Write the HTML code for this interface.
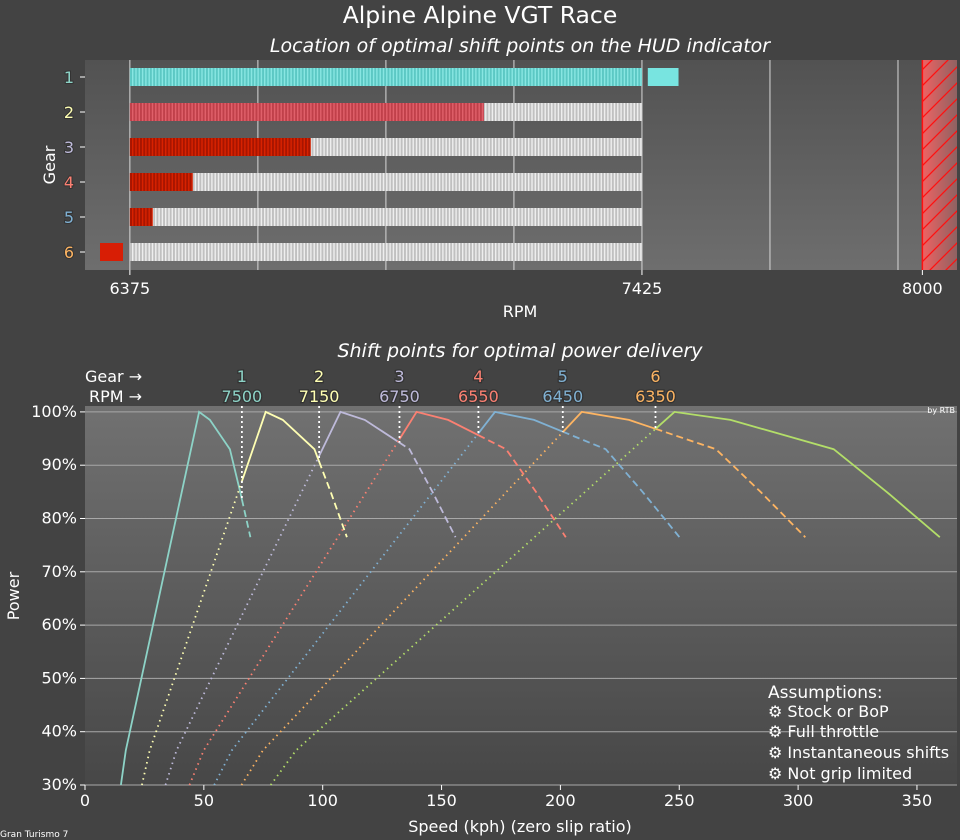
<!DOCTYPE html>
<html><head><meta charset="utf-8"><style>
html,body{margin:0;padding:0;background:#434343;}
svg{display:block;font-family:"DejaVu Sans","Liberation Sans",sans-serif;}
</style></head><body>
<svg id="chart" width="960" height="840" viewBox="0 0 960 840" xmlns="http://www.w3.org/2000/svg">
<defs>
<linearGradient id="bgTop" x1="0" y1="0" x2="0" y2="1"><stop offset="0" stop-color="#525252"/><stop offset="1" stop-color="#6e6e6e"/></linearGradient>
<linearGradient id="bgBot" x1="0" y1="0" x2="0" y2="1"><stop offset="0" stop-color="#717171"/><stop offset="1" stop-color="#474747"/></linearGradient>
<linearGradient id="redz" x1="0" y1="0" x2="1" y2="0"><stop offset="0" stop-color="#f06262"/><stop offset="1" stop-color="#8e6262"/></linearGradient>
<pattern id="hatch" width="16" height="16" patternUnits="userSpaceOnUse"><path d="M-4,20 L20,-4 M-4,4 L4,-4 M12,20 L20,12" stroke="#ff1010" stroke-width="1.3"/></pattern>
<pattern id="stGray" width="3.3" height="10" patternUnits="userSpaceOnUse"><rect width="3.3" height="10" fill="#c0c0c0"/><rect width="1.4" height="10" fill="#eeeeee"/></pattern>
<pattern id="stCyan" width="3.3" height="10" patternUnits="userSpaceOnUse"><rect width="3.3" height="10" fill="#5cc8c4"/><rect width="1.4" height="10" fill="#88e6e2"/></pattern>
<pattern id="stRed2" width="3.3" height="10" patternUnits="userSpaceOnUse"><rect width="3.3" height="10" fill="#c0404a"/><rect width="1.4" height="10" fill="#e0606a"/></pattern>
<pattern id="stRed" width="3.3" height="10" patternUnits="userSpaceOnUse"><rect width="3.3" height="10" fill="#a81500"/><rect width="1.4" height="10" fill="#d82200"/></pattern>
</defs>
<text x="480" y="23" text-anchor="middle" font-size="23.5" fill="#fff">Alpine Alpine VGT Race</text>
<text x="520" y="52" text-anchor="middle" font-size="19" font-style="italic" fill="#fff">Location of optimal shift points on the HUD indicator</text>
<g id="topChart"></g>
<text x="520" y="357" text-anchor="middle" font-size="19" font-style="italic" fill="#fff">Shift points for optimal power delivery</text>
<g id="botChart"></g>
<text x="955" y="413" text-anchor="end" font-size="8" fill="#fff">by RTB</text>
<text x="0" y="837" font-size="9" fill="#fff">Gran Turismo 7</text>
<g fill="#fff" font-size="16">
<text x="768" y="698" font-size="17">Assumptions:</text>
<text x="768" y="717">⚙ Stock or BoP</text>
<text x="768" y="737">⚙ Full throttle</text>
<text x="768" y="758">⚙ Instantaneous shifts</text>
<text x="768" y="779">⚙ Not grip limited</text>
</g>
</svg>
<script>
const gearLabels=["1","2","3","4","5","6"];
const shiftRpms=[7500,7150,6750,6550,6450,6350];
const hudFillRpm=[7500,7101,6746,6504,6422,6350];
const rpmTicks=[6375,7425,8000];
const gearColors=["#8dd3c7","#ffffb3","#bebada","#fb8072","#80b1d3","#fdb462","#b3de69"];
const peakSpeeds=[48,76,107.5,139.5,172.5,209,248];
const shiftSpeeds=[66,98.5,132.3,165.5,201,240];
const shapeRatio=[0.315,0.358,1,1.095,1.27,1.36,1.45];
const shapePower=[30,36.5,100,98.5,93,85,76.5];
const speedTicks=[0,50,100,150,200,250,300,350];
const powerTicks=[30,40,50,60,70,80,90,100];

const NS="http://www.w3.org/2000/svg";
function mk(p,t,a){const e=document.createElementNS(NS,t);for(const k in a)e.setAttribute(k,a[k]);p.appendChild(e);return e;}
// ---------- top chart ----------
const topG=document.getElementById('topChart');
const TX0=85,TX1=957,TY0=60,TY1=270,R0=6283,R1=8071;
const xr=r=>TX0+(r-R0)/(R1-R0)*(TX1-TX0);
let bg=mk(topG,'rect',{x:TX0,y:TY0,width:TX1-TX0,height:TY1-TY0,fill:'url(#bgTop)'});

for(let i=0;i<7;i++){const r=6375+i*262.5;mk(topG,'line',{x1:xr(r),x2:xr(r),y1:TY0,y2:TY1,stroke:'#d8d8d8','stroke-width':1});}
let rz=mk(topG,'rect',{x:xr(8000),y:TY0,width:TX1-xr(8000),height:TY1-TY0,fill:'url(#redz)'});

mk(topG,'rect',{x:xr(8000),y:TY0,width:TX1-xr(8000),height:TY1-TY0,fill:'url(#hatch)'});
mk(topG,'line',{x1:xr(8000),x2:xr(8000),y1:TY0,y2:TY1,stroke:'#ff1010','stroke-width':1.5});
gearLabels.forEach((g,i)=>{
  const yc=77+i*35,h=18,y=yc-h/2,a=xr(6375),b=xr(7425);
  const bar=mk(topG,'rect',{x:a,y:y,width:b-a,height:h,fill:'url(#stGray)'});
  
  const pat=i==0?'url(#stCyan)':i==1?'url(#stRed2)':'url(#stRed)';
  const fe=Math.min(hudFillRpm[i],7425);
  if(fe>6375){const f=mk(topG,'rect',{x:a,y:y,width:xr(fe)-a,height:h,fill:pat});
    }
  if(hudFillRpm[i]>7425){const m=mk(topG,'rect',{x:xr(7437),y:y,width:xr(hudFillRpm[i])-xr(7437),height:h,fill:'#78e4e0'});
    }
  if(hudFillRpm[i]<6375){const m=mk(topG,'rect',{x:100,y:y,width:23,height:h,fill:'#d81e05'});
    }
  mk(topG,'line',{x1:80,x2:85,y1:yc,y2:yc,stroke:'#fff'});
  const t=mk(topG,'text',{x:74,y:yc+6,'text-anchor':'end','font-size':16,fill:gearColors[i],stroke:'#333','stroke-width':2,'paint-order':'stroke'});t.textContent=g;
  
});
rpmTicks.forEach(r=>{mk(topG,'line',{x1:xr(r),x2:xr(r),y1:TY1,y2:TY1+5,stroke:'#fff'});
  const t=mk(topG,'text',{x:xr(r),y:TY1+24,'text-anchor':'middle','font-size':16,fill:'#fff'});t.textContent=r;
  });
let t1=mk(topG,'text',{x:520,y:317,'text-anchor':'middle','font-size':16,fill:'#fff'});t1.textContent='RPM';

let t2=mk(topG,'text',{x:55,y:165,'text-anchor':'middle','font-size':16,fill:'#fff',transform:'rotate(-90 55 165)'});t2.textContent='Gear';

// ---------- bottom chart ----------
const botG=document.getElementById('botChart');
const BX0=85,BX1=957,BY0=406,BY1=785;
const xs=s=>BX0+s*2.377;
const yp=p=>BY1-(p-30)*5.33;
let bb=mk(botG,'rect',{x:BX0,y:BY0,width:BX1-BX0,height:BY1-BY0,fill:'url(#bgBot)'});

powerTicks.forEach(p=>{mk(botG,'line',{x1:BX0,x2:BX1,y1:yp(p),y2:yp(p),stroke:'#a8a8a8','stroke-width':1});
  mk(botG,'line',{x1:BX0-5,x2:BX0,y1:yp(p),y2:yp(p),stroke:'#fff'});
  const t=mk(botG,'text',{x:BX0-8,y:yp(p)+5,'text-anchor':'end','font-size':16,fill:'#fff'});t.textContent=p+'%';
  });
speedTicks.forEach(s=>{mk(botG,'line',{x1:xs(s),x2:xs(s),y1:BY1,y2:BY1+5,stroke:'#fff'});
  const t=mk(botG,'text',{x:xs(s),y:BY1+21,'text-anchor':'middle','font-size':16,fill:'#fff'});t.textContent=s;
  });
let t3=mk(botG,'text',{x:520,y:832,'text-anchor':'middle','font-size':16,fill:'#fff'});t3.textContent='Speed (kph) (zero slip ratio)';

let t4=mk(botG,'text',{x:19,y:596,'text-anchor':'middle','font-size':16,fill:'#fff',transform:'rotate(-90 19 596)'});t4.textContent='Power';

function powerAt(g,s){const r=s/peakSpeeds[g];
  for(let k=0;k<shapeRatio.length-1;k++){if(r>=shapeRatio[k]-1e-9&&r<=shapeRatio[k+1]+1e-9){const f=(r-shapeRatio[k])/(shapeRatio[k+1]-shapeRatio[k]);return shapePower[k]+f*(shapePower[k+1]-shapePower[k]);}}
  return null;}
function seg(g,s0,s1,dash,name){
  const pts=[];const pk=peakSpeeds[g];
  const sp=[s0,...shapeRatio.map(r=>r*pk).filter(s=>s>s0&&s<s1),s1];
  sp.forEach(s=>{const p=powerAt(g,s);if(p!=null)pts.push(xs(s).toFixed(1)+','+yp(p).toFixed(1));});
  const a={points:pts.join(' '),fill:'none',stroke:gearColors[g],'stroke-width':1.8};
  if(dash)a['stroke-dasharray']=dash;
  const e=mk(botG,'polyline',a);}
peakSpeeds.forEach((pk,g)=>{
  const lo=shapeRatio[0]*pk,hi=shapeRatio[shapeRatio.length-1]*pk;
  const a=g==0?lo:shiftSpeeds[g-1],b=g<shiftSpeeds.length?shiftSpeeds[g]:hi;
  if(g>0)seg(g,lo,a,'1.5 4','power-curve-unused-low-gear-'+(g+1));
  seg(g,a,b,null,'power-curve-gear-'+(g+1));
  if(b<hi)seg(g,b,hi,'7 4','power-curve-unused-high-gear-'+(g+1));
});
shiftSpeeds.forEach((s,i)=>{
  const p=powerAt(i,s);
  const l=mk(botG,'line',{x1:xs(s),x2:xs(s),y1:BY0,y2:yp(p),stroke:'#fff','stroke-width':1.8,'stroke-dasharray':'2 3'});
  
  const tg=mk(botG,'text',{x:xs(s),y:382,'text-anchor':'middle','font-size':16,fill:gearColors[i],stroke:'#333','stroke-width':2.5,'paint-order':'stroke'});tg.textContent=gearLabels[i];
  
  const tr=mk(botG,'text',{x:xs(s),y:402,'text-anchor':'middle','font-size':16,fill:gearColors[i],stroke:'#333','stroke-width':2.5,'paint-order':'stroke'});tr.textContent=shiftRpms[i];
  
});
let g1=mk(botG,'text',{x:85,y:382,'font-size':16,fill:'#fff'});g1.textContent='Gear →';

let g2=mk(botG,'text',{x:89,y:402,'font-size':16,fill:'#fff'});g2.textContent='RPM →';

</script>
</body></html>
